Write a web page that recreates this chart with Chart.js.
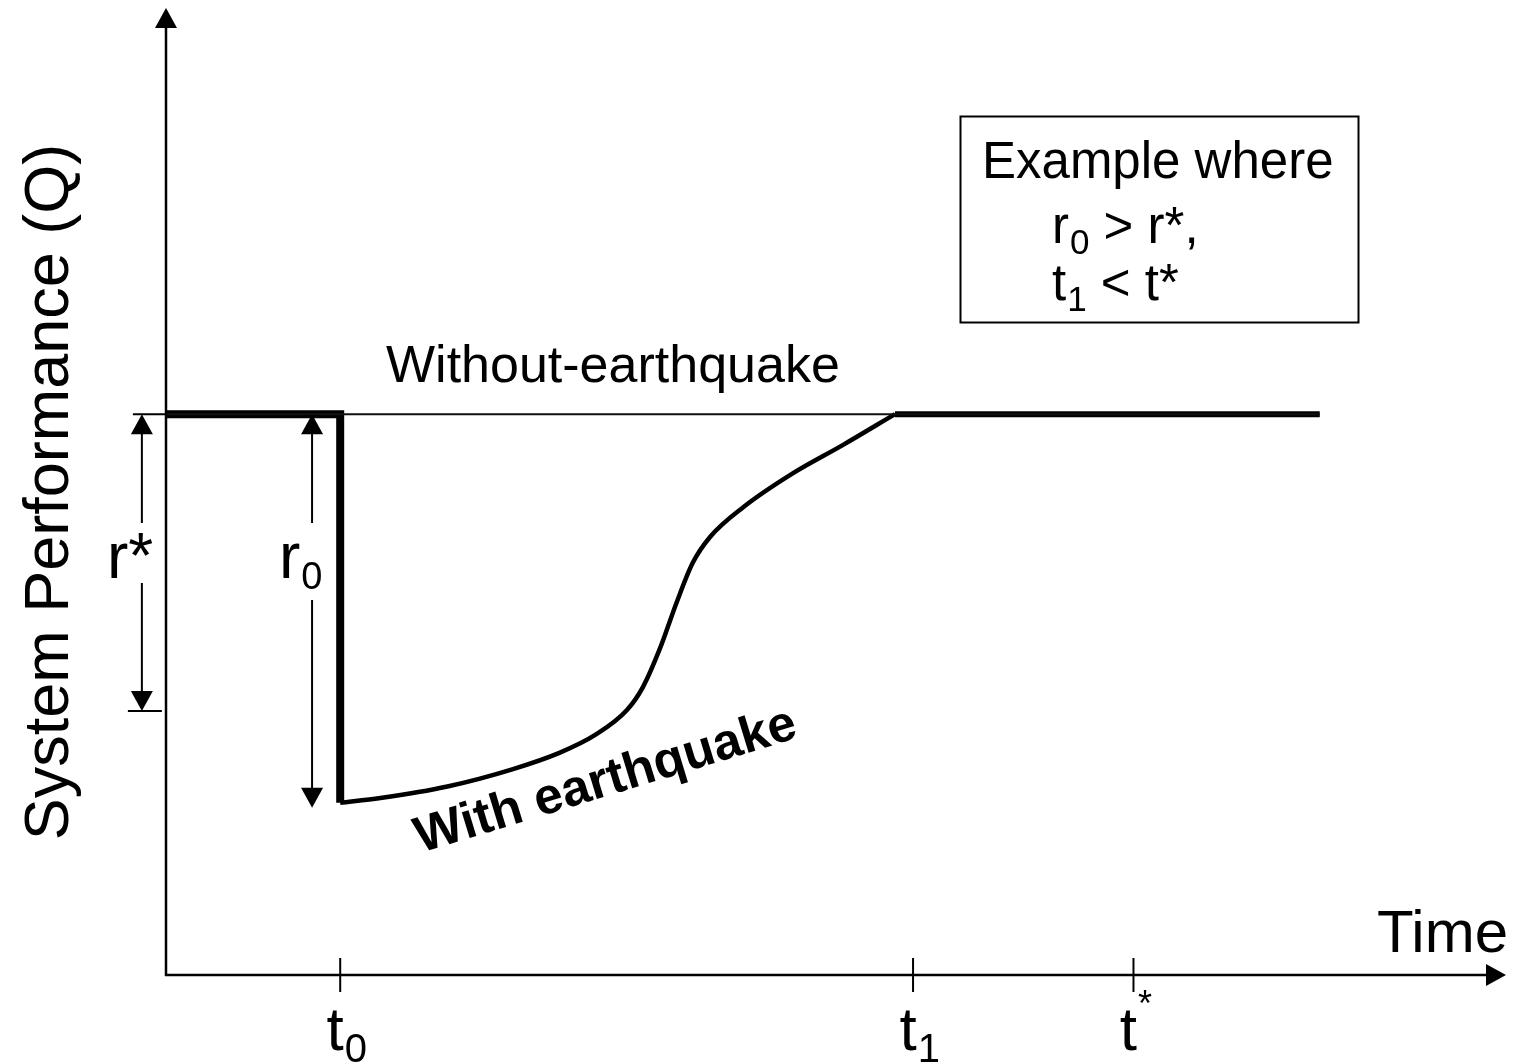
<!DOCTYPE html>
<html>
<head>
<meta charset="utf-8">
<script src="https://cdn.jsdelivr.net/npm/chart.js@4.4.1/dist/chart.umd.min.js"></script>
<style>
  html, body { margin: 0; padding: 0; background: #fff; }
  #wrap { width: 1526px; height: 1064px; position: relative; }
</style>
</head>
<body>
<div id="wrap"><canvas id="chart"></canvas></div>
<script>
// time marks on the x axis (t0, t1, t*)
const tickValues = [13.0, 55.75, 72.2];
const tickMain = ['t', 't', 't'];
const tickSmall = ['0', '1', '*'];
const tickSmallPos = ['sub', 'sub', 'sup'];

// performance levels
const qNormal = 58.0;
const qDrop = 17.8;
const rStarLevel = 27.3;

// without earthquake (thin reference line)
const withoutX = [0, 86.1];
const withoutY = [58.0, 58.0];

// with earthquake: normal level, then the sudden drop at t0
const preX = [0, 13.0, 13.0];
const preY = [58.0, 58.0, 17.8];

// recovery curve
const recoveryX = [13.0, 16.0, 21.0, 25.9, 29.4, 32.0, 34.4, 35.6, 36.9, 38.1, 39.3, 40.6, 43.1, 46.8, 50.5, 54.4];
const recoveryY = [17.8, 18.3, 19.5, 21.3, 23.0, 24.8, 27.4, 29.8, 33.9, 38.5, 42.6, 45.3, 48.4, 51.9, 54.8, 58.0];

// back to normal
const postX = [54.4, 86.1];
const postY = [58.0, 58.0];

// x positions of the dimension arrows r* and r0
const rStarX = -1.8;
const rZeroX = 10.9;

const FONT = '"Liberation Sans", Arial, sans-serif';

function toPoints(xs, ys) {
    return xs.map((x, i) => ({ x: x, y: ys[i] }));
}

function arrowHead(ctx, x, y, dir) {
    // dir: 'up' | 'down' | 'right'
    const len = 20, half = 11;
    ctx.beginPath();
    ctx.moveTo(x, y);
    if (dir === 'up') {
        ctx.lineTo(x - half, y + len);
        ctx.lineTo(x + half, y + len);
    } else if (dir === 'down') {
        ctx.lineTo(x - half, y - len);
        ctx.lineTo(x + half, y - len);
    } else {
        ctx.lineTo(x - len, y - half);
        ctx.lineTo(x - len, y + half);
    }
    ctx.closePath();
    ctx.fill();
}

function line(ctx, x1, y1, x2, y2, w) {
    ctx.lineWidth = w;
    ctx.beginPath();
    ctx.moveTo(x1, y1);
    ctx.lineTo(x2, y2);
    ctx.stroke();
}

// text with a subscript / superscript part
function richText(ctx, x, y, main, small, pos, mainSize, smallSize) {
    ctx.textAlign = 'left';
    ctx.textBaseline = 'alphabetic';
    ctx.font = mainSize + 'px ' + FONT;
    ctx.fillText(main, x, y);
    const w = ctx.measureText(main).width;
    ctx.font = smallSize + 'px ' + FONT;
    const dy = pos === 'sub' ? smallSize * 0.3 : -mainSize * 0.55;
    ctx.fillText(small, x + w + 1, y + dy);
    return x + w + 1 + ctx.measureText(small).width;
}

function dimension(ctx, x, yTop, yBot, gapTop, gapBot) {
    line(ctx, x, yTop + 18, x, gapTop, 2);
    line(ctx, x, gapBot, x, yBot - 18, 2);
    arrowHead(ctx, x, yTop, 'up');
    arrowHead(ctx, x, yBot, 'down');
}

const diagramPlugin = {
    id: 'diagram',
    afterDatasetsDraw(chart) {
        const ctx = chart.ctx;
        const xs = chart.scales.x, ys = chart.scales.y;
        const area = chart.chartArea;
        const x0 = xs.getPixelForValue(0);
        const y0 = ys.getPixelForValue(0);
        ctx.save();
        ctx.strokeStyle = '#000';
        ctx.fillStyle = '#000';
        ctx.lineCap = 'butt';

        // axes with arrows
        line(ctx, x0, y0 + 1, x0, area.top + 18, 2.5);
        arrowHead(ctx, x0, area.top, 'up');
        line(ctx, x0 - 1, y0, area.right - 18, y0, 2.5);
        arrowHead(ctx, area.right, y0, 'right');

        // time ticks and labels
        tickValues.forEach((v, i) => {
            const px = xs.getPixelForValue(v);
            line(ctx, px, y0 - 17, px, y0 + 17, 2);
            const mainSize = 62;
            ctx.font = mainSize + 'px ' + FONT;
            const w = ctx.measureText(tickMain[i]).width;
            richText(ctx, px - w / 2 - 5, 1050, tickMain[i], tickSmall[i], tickSmallPos[i], mainSize, tickSmallPos[i] === 'sub' ? 40 : 36);
        });

        ctx.font = '60px ' + FONT;
        ctx.textAlign = 'right';
        ctx.textBaseline = 'alphabetic';
        ctx.fillText('Time', 1508, 952);

        // y axis title
        ctx.save();
        ctx.translate(68, 492);
        ctx.rotate(-Math.PI / 2);
        ctx.font = '63px ' + FONT;
        ctx.textAlign = 'center';
        ctx.fillText('System Performance (Q)', 0, 0);
        ctx.restore();

        // r* dimension
        const yN = ys.getPixelForValue(qNormal);
        const yS = ys.getPixelForValue(rStarLevel);
        const yD = ys.getPixelForValue(qDrop);
        const xr = xs.getPixelForValue(rStarX);
        const xz = xs.getPixelForValue(rZeroX);
        line(ctx, xr - 9, yN, x0, yN, 2);
        line(ctx, xr - 14, yS, xr + 20, yS, 2);
        dimension(ctx, xr, yN, yS, 523, 583);
        ctx.font = '64px ' + FONT;
        ctx.textAlign = 'left';
        ctx.fillText('r*', xr - 35, 578);

        // r0 dimension
        dimension(ctx, xz, yN, yD + 5, 523, 600);
        richText(ctx, xz - 33, 578, 'r', '0', 'sub', 64, 38);

        // line labels
        ctx.font = '52px ' + FONT;
        ctx.textAlign = 'left';
        ctx.fillText('Without-earthquake', 386, 382);

        ctx.save();
        ctx.translate(610, 795);
        ctx.rotate(-17 * Math.PI / 180);
        ctx.font = 'bold 51px ' + FONT;
        ctx.textAlign = 'center';
        ctx.fillText('With earthquake', 0, 0);
        ctx.restore();

        // example box
        ctx.lineWidth = 2;
        ctx.strokeRect(960.5, 116.5, 398, 206);
        ctx.font = '51px ' + FONT;
        ctx.textAlign = 'left';
        ctx.fillText('Example where', 982, 178);
        let nx = richText(ctx, 1052, 243, 'r', '0', 'sub', 51, 35);
        ctx.font = '51px ' + FONT;
        ctx.fillText(' > r*,', nx, 243);
        nx = richText(ctx, 1052, 300, 't', '1', 'sub', 51, 35);
        ctx.font = '51px ' + FONT;
        ctx.fillText(' < t*', nx, 300);

        ctx.restore();
    }
};

const ctx = document.getElementById('chart').getContext('2d');
new Chart(ctx, {
    type: 'line',
    data: {
        datasets: [
            {
                label: 'Without-earthquake',
                data: toPoints(withoutX, withoutY),
                borderColor: '#111',
                borderWidth: 2,
                pointRadius: 0,
                tension: 0
            },
            {
                label: 'Before / drop',
                data: toPoints(preX, preY),
                borderColor: '#000',
                borderWidth: 8,
                borderJoinStyle: 'miter',
                borderCapStyle: 'butt',
                pointRadius: 0,
                tension: 0
            },
            {
                label: 'With earthquake',
                data: toPoints(recoveryX, recoveryY),
                borderColor: '#000',
                borderWidth: 4.5,
                pointRadius: 0,
                cubicInterpolationMode: 'monotone'
            },
            {
                label: 'Recovered',
                data: toPoints(postX, postY),
                borderColor: '#000',
                borderWidth: 6,
                borderCapStyle: 'butt',
                pointRadius: 0,
                tension: 0
            }
        ]
    },
    options: {
        responsive: true,
        maintainAspectRatio: false,
        animation: false,
        devicePixelRatio: 1,
        layout: {
            autoPadding: false,
            padding: { left: 166, right: 20, top: 8, bottom: 89 }
        },
        plugins: {
            legend: { display: false },
            tooltip: { enabled: false }
        },
        scales: {
            x: { type: 'linear', min: 0, max: 100, display: false },
            y: { type: 'linear', min: 0, max: 100, display: false }
        }
    },
    plugins: [diagramPlugin]
});
</script>
</body>
</html>
